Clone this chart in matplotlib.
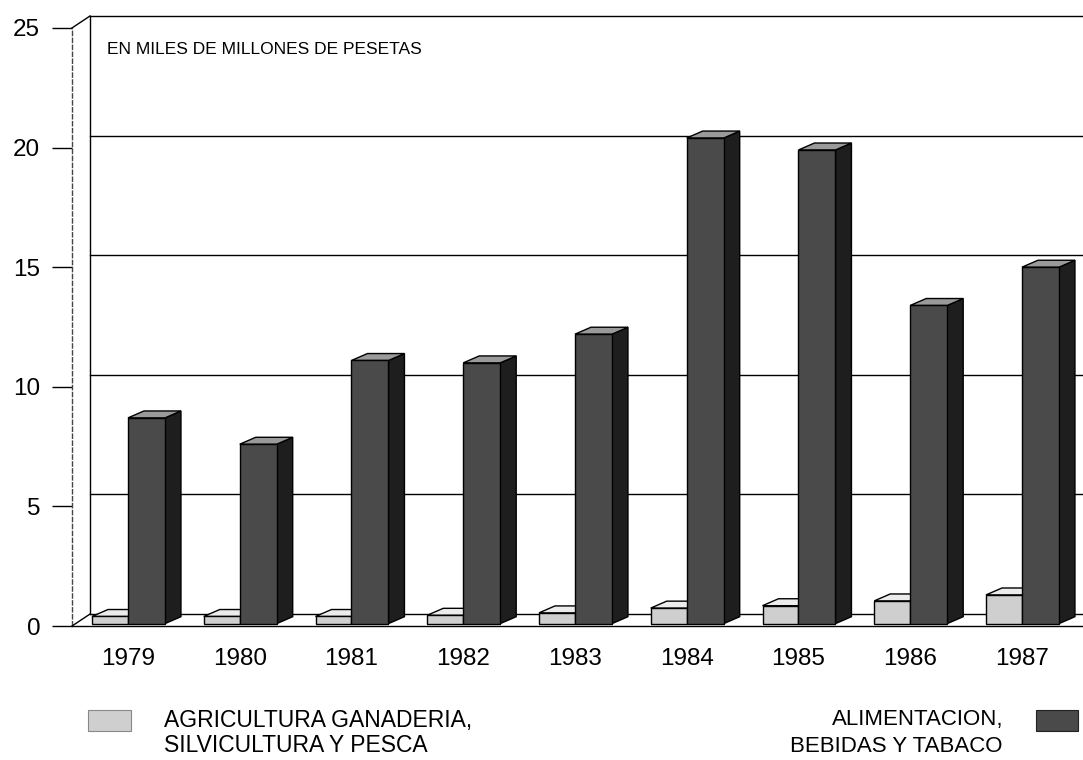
import matplotlib
matplotlib.use('Agg')
import matplotlib.pyplot as plt
from matplotlib.patches import Polygon, Rectangle

plt.rcParams['font.family'] = ['Liberation Sans', 'DejaVu Sans']

years = ['1979', '1980', '1981', '1982', '1983', '1984', '1985', '1986', '1987']
agricultura = [0.4, 0.4, 0.4, 0.45, 0.55, 0.75, 0.85, 1.05, 1.3]
alimentacion = [8.7, 7.6, 11.1, 11.0, 12.2, 20.4, 19.9, 13.4, 15.0]
yticks = [0, 5, 10, 15, 20, 25]

# 3d look (data units)
wl, wd = 0.322, 0.331      # bar widths light / dark
bdx, bdy = 0.143, 0.29     # bar depth
wdx, wdy = 0.161, 0.5      # wall depth
base = 0.1
x0, x1 = -0.501, 8.546

fig = plt.figure(figsize=(10.83, 7.6), dpi=100)
ax = fig.add_axes([72 / 1083, (760 - 633.2) / 760, 1 - 72 / 1083, (633.2 - 13.6) / 760])
ax.set_xlim(x0, x1)
ax.set_ylim(-0.3, 25.6)
for s in ax.spines.values():
    s.set_visible(False)

# walls, floor and grid
k = dict(color='black', lw=1, clip_on=False)
ax.plot([x0, x0], [0, 25], color='#444', lw=1, ls=(0, (4, 1)), clip_on=False)
ax.plot([x0 + wdx, x0 + wdx], [wdy, 25 + wdy], **k)
ax.plot([x0, x0 + wdx], [25, 25 + wdy], **k)
ax.plot([x0, x0 + wdx], [0, wdy], **k)
ax.plot([x0, x1], [0, 0], **k)
for v in yticks[1:]:
    ax.plot([x0 + wdx, x1], [v + wdy, v + wdy], color='black', lw=1, zorder=1, clip_on=False)
ax.plot([x0 + wdx, x1], [wdy, wdy], color='black', lw=1, zorder=1)


def bar3d(left, w, v, front, side, top):
    ax.add_patch(Polygon([(left + w, base), (left + w + bdx, base + bdy), (left + w + bdx, v + bdy),
                          (left + w, v)], closed=True, fc=side, ec='black', lw=1, zorder=3))
    ax.add_patch(Polygon([(left, v), (left + bdx, v + bdy), (left + w + bdx, v + bdy), (left + w, v)],
                         closed=True, fc=top, ec='black', lw=1, zorder=3))
    ax.add_patch(Rectangle((left, base), w, v - base, fc=front, ec='black', lw=1, zorder=3))


for i in range(len(years)):
    bar3d(i - wl, wl, agricultura[i], '#cfcfcf', '#a8a8a8', '#ececec')
    bar3d(i, wd, alimentacion[i], '#4a4a4a', '#1e1e1e', '#9a9a9a')

ax.set_yticks(yticks)
ax.set_yticklabels([str(v) for v in yticks], fontsize=17.5)
ax.tick_params(axis='y', length=14.4, width=1, pad=8.5)
ax.set_xticks(range(len(years)))
ax.set_xticklabels(years, fontsize=17.5)
ax.tick_params(axis='x', length=0, pad=11)

ax.text(-0.188, 24.1, 'EN MILES DE MILLONES DE PESETAS', fontsize=12.5, va='center', ha='left')

# legend
fig.patches.append(Rectangle((88 / 1083, (760 - 731) / 760), 43 / 1083, 21 / 760, fc='#cfcfcf',
                             ec='#888', lw=0.8, transform=fig.transFigure, figure=fig))
fig.text(164 / 1083, (760 - 720) / 760, 'AGRICULTURA GANADERIA,', fontsize=16.5, va='center', ha='left')
fig.text(164 / 1083, (760 - 746) / 760, 'SILVICULTURA Y PESCA', fontsize=16.5, va='center', ha='left')
fig.patches.append(Rectangle((1036 / 1083, (760 - 731) / 760), 42 / 1083, 21 / 760, fc='#4a4a4a',
                             ec='#222', lw=0.8, transform=fig.transFigure, figure=fig))
fig.text(1003 / 1083, (760 - 720) / 760, 'ALIMENTACION,', fontsize=16, va='center', ha='right')
fig.text(1003 / 1083, (760 - 746) / 760, 'BEBIDAS Y TABACO', fontsize=16, va='center', ha='right')

fig.savefig('out.png', dpi=100)
